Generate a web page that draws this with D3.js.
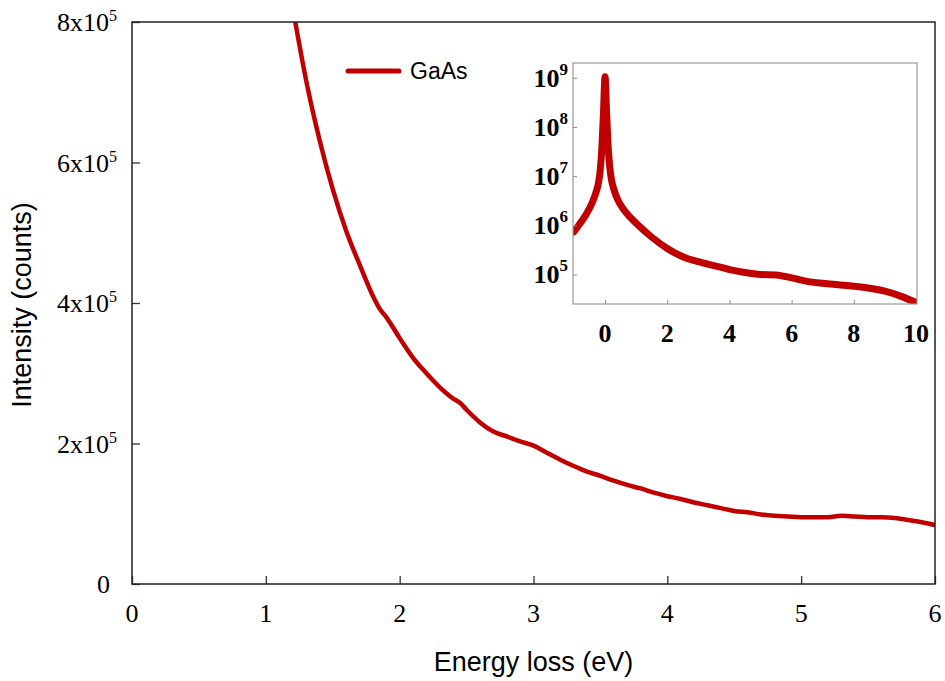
<!DOCTYPE html>
<html lang="en">
<head>
    <meta charset="UTF-8">
    <script src="https://d3js.org/d3.v7.min.js"></script>
    <title>GaAs energy loss</title>
    <style>
        body{ margin: 0; background: #fff; }
        svg{ display: block; }
        .serif{ font-family: "Liberation Serif", "Times New Roman", serif; }
        .sans{ font-family: "Liberation Sans", Arial, sans-serif; }
    </style>
</head>
<body>
<svg width="945" height="681"></svg>
<script>
// main panel: energy loss (eV) vs intensity (counts)
let energy = [1.22, 1.3, 1.4, 1.5, 1.6, 1.7, 1.8, 1.85, 1.9, 2.0, 2.1, 2.2, 2.3, 2.4, 2.45, 2.5, 2.6, 2.7, 2.8, 2.9,
    3.0, 3.1, 3.2, 3.3, 3.4, 3.5, 3.6, 3.7, 3.8, 3.9, 4.0, 4.1, 4.2, 4.3, 4.4, 4.5, 4.6, 4.7, 4.8, 4.9,
    5.0, 5.1, 5.2, 5.3, 5.4, 5.5, 5.6, 5.7, 5.8, 5.9, 6.0]
let intensity = [8.00, 7.18, 6.33, 5.62, 5.03, 4.55, 4.10, 3.92, 3.80, 3.50, 3.22, 3.00, 2.80, 2.64, 2.58, 2.48, 2.30, 2.17, 2.10, 2.03,
    1.97, 1.87, 1.77, 1.68, 1.60, 1.54, 1.47, 1.41, 1.36, 1.30, 1.25, 1.21, 1.16, 1.12, 1.08, 1.04, 1.02, 0.99, 0.97, 0.96,
    0.95, 0.95, 0.95, 0.97, 0.96, 0.95, 0.95, 0.94, 0.91, 0.88, 0.84].map(v => v * 1e5)
let xTicks = [0, 1, 2, 3, 4, 5, 6]
let yTicks = [0, 2e5, 4e5, 6e5, 8e5]

// inset: full spectrum on log scale (log10 of counts)
let insetEnergy = [-1.0, -0.8, -0.6, -0.4, -0.3, -0.2, -0.15, -0.1, -0.05, 0, 0.05, 0.1, 0.15, 0.2, 0.3, 0.4,
    0.6, 0.8, 1.0, 1.5, 2.0, 2.5, 3.0, 3.5, 4.0, 4.5, 5.0, 5.5, 6.0, 6.5, 7.0, 7.5, 8.0, 8.5, 9.0, 9.5, 10.0]
let insetLog = [5.87, 6.04, 6.23, 6.48, 6.65, 6.9, 7.15, 7.6, 8.3, 9.02, 8.3, 7.6, 7.2, 6.95, 6.7, 6.53,
    6.32, 6.17, 6.04, 5.76, 5.53, 5.36, 5.26, 5.18, 5.10, 5.04, 5.00, 4.99, 4.93, 4.86, 4.82, 4.79, 4.76, 4.72, 4.66, 4.56, 4.43]
let insetXTicks = [0, 2, 4, 6, 8, 10]
let insetYExp = [5, 6, 7, 8, 9]

let red = "#c00000"
let svg = d3.select("svg")

// ---- main chart ----
let m = {left: 132, top: 22, right: 935, bottom: 584}
let x = d3.scaleLinear().domain([0, 6]).range([m.left, m.right])
let y = d3.scaleLinear().domain([0, 8e5]).range([m.bottom, m.top])

svg.append("clipPath").attr("id", "mainClip")
    .append("rect").attr("x", m.left).attr("y", m.top)
    .attr("width", m.right - m.left).attr("height", m.bottom - m.top)

let mainData = energy.map((e, i) => [e, intensity[i]])
svg.append("path")
    .datum(mainData)
    .attr("clip-path", "url(#mainClip)")
    .attr("fill", "none")
    .attr("stroke", red)
    .attr("stroke-width", 4.5)
    .attr("stroke-linejoin", "round")
    .attr("d", d3.line().x(d => x(d[0])).y(d => y(d[1])).curve(d3.curveMonotoneX))

// axes with inward ticks
svg.append("g").attr("transform", `translate(0,${m.bottom})`)
    .call(d3.axisTop(x).tickValues(xTicks).tickSize(8).tickFormat(""))
    .call(g => g.select(".domain").remove())
    .call(g => g.selectAll("line").attr("stroke", "#333").attr("stroke-width", 1.3))
svg.append("g").attr("transform", `translate(${m.left},0)`)
    .call(d3.axisRight(y).tickValues(yTicks).tickSize(8).tickFormat(""))
    .call(g => g.select(".domain").remove())
    .call(g => g.selectAll("line").attr("stroke", "#333").attr("stroke-width", 1.3))

svg.append("rect")
    .attr("x", m.left).attr("y", m.top)
    .attr("width", m.right - m.left).attr("height", m.bottom - m.top)
    .attr("fill", "none").attr("stroke", "#222").attr("stroke-width", 1.5)

// x tick labels
svg.append("g").selectAll("text").data(xTicks).join("text")
    .attr("class", "serif")
    .attr("x", d => x(d)).attr("y", m.bottom + 38)
    .attr("text-anchor", "middle")
    .attr("font-size", 26)
    .text(d => d)

// y tick labels like 2x10^5
let yl = svg.append("g").selectAll("text").data(yTicks).join("text")
    .attr("class", "serif")
    .attr("x", d => d === 0 ? m.left - 22 : m.left - 15)
    .attr("y", d => y(d) + 9)
    .attr("text-anchor", "end")
    .attr("font-size", 26)
yl.filter(d => d === 0).text("0")
yl.filter(d => d !== 0).each(function(d) {
    let t = d3.select(this)
    t.append("tspan").text((d / 1e5) + "x10")
    t.append("tspan").attr("dy", -10).attr("font-size", 16).text("5")
})

// axis titles
svg.append("text")
    .attr("class", "sans")
    .attr("transform", `translate(31,${(m.top + m.bottom) / 2 + 2}) rotate(-90)`)
    .attr("text-anchor", "middle")
    .attr("font-size", 27)
    .text("Intensity (counts)")
svg.append("text")
    .attr("class", "sans")
    .attr("x", (m.left + m.right) / 2).attr("y", 671)
    .attr("text-anchor", "middle")
    .attr("font-size", 27)
    .text("Energy loss (eV)")

// legend
svg.append("line")
    .attr("x1", 348).attr("x2", 399).attr("y1", 71).attr("y2", 71)
    .attr("stroke", red).attr("stroke-width", 5).attr("stroke-linecap", "round")
svg.append("text")
    .attr("class", "sans")
    .attr("x", 410).attr("y", 79)
    .attr("font-size", 23)
    .text("GaAs")

// ---- inset ----
let n = {left: 573, top: 63, right: 917, bottom: 304}
let ix = d3.scaleLinear().domain([-1.03, 10.03]).range([n.left, n.right])
let iy = d3.scaleLog().domain([Math.pow(10, 4.4), Math.pow(10, 9.3)]).range([n.bottom, n.top])

svg.append("rect")
    .attr("x", n.left).attr("y", n.top)
    .attr("width", n.right - n.left).attr("height", n.bottom - n.top)
    .attr("fill", "#fff")

svg.append("clipPath").attr("id", "insetClip")
    .append("rect").attr("x", n.left).attr("y", n.top)
    .attr("width", n.right - n.left).attr("height", n.bottom - n.top)

let insetData = insetEnergy.map((e, i) => [e, Math.pow(10, insetLog[i])])
svg.append("path")
    .datum(insetData)
    .attr("clip-path", "url(#insetClip)")
    .attr("fill", "none")
    .attr("stroke", red)
    .attr("stroke-width", 7)
    .attr("stroke-linejoin", "round")
    .attr("stroke-linecap", "round")
    .attr("d", d3.line().x(d => ix(d[0])).y(d => iy(d[1])).curve(d3.curveMonotoneX))

svg.append("g").attr("transform", `translate(0,${n.bottom})`)
    .call(d3.axisTop(ix).tickValues(insetXTicks.slice(0, -1)).tickSize(4).tickFormat(""))
    .call(g => g.select(".domain").remove())
    .call(g => g.selectAll("line").attr("stroke", "#888"))
svg.append("g").attr("transform", `translate(${n.left},0)`)
    .call(d3.axisRight(iy).tickValues(insetYExp.map(e => Math.pow(10, e))).tickSize(4).tickFormat(""))
    .call(g => g.select(".domain").remove())
    .call(g => g.selectAll("line").attr("stroke", "#888"))

svg.append("rect")
    .attr("x", n.left).attr("y", n.top)
    .attr("width", n.right - n.left).attr("height", n.bottom - n.top)
    .attr("fill", "none").attr("stroke", "#999").attr("stroke-width", 1.2)

svg.append("g").selectAll("text").data(insetXTicks).join("text")
    .attr("class", "serif")
    .attr("x", d => ix(d)).attr("y", n.bottom + 38)
    .attr("text-anchor", "middle")
    .attr("font-size", 26)
    .attr("font-weight", "bold")
    .text(d => d)

svg.append("g").selectAll("text").data(insetYExp).join("text")
    .attr("class", "serif")
    .attr("x", n.left - 5).attr("y", d => iy(Math.pow(10, d)) + 9)
    .attr("text-anchor", "end")
    .attr("font-size", 26)
    .attr("font-weight", "bold")
    .each(function(d) {
        let t = d3.select(this)
        t.append("tspan").text("10")
        t.append("tspan").attr("dy", -12).attr("font-size", 17).text(d)
    })
</script>
</body>
</html>
